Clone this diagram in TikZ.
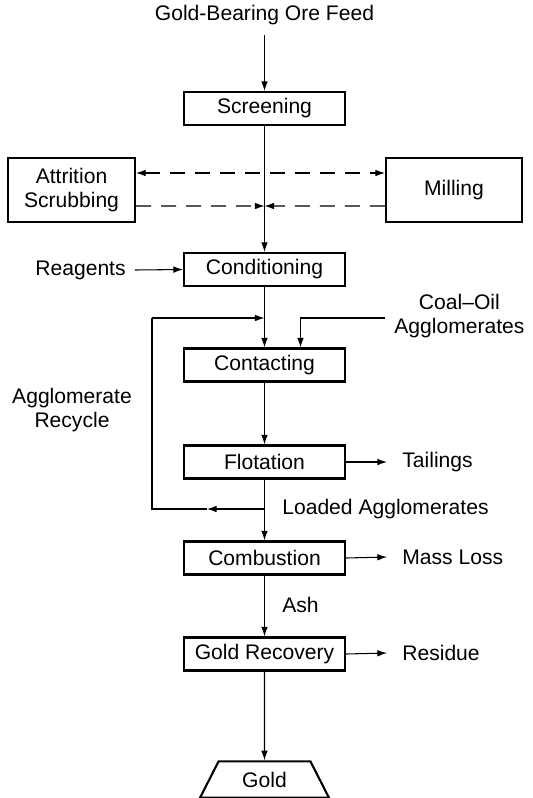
\documentclass[tikz,border=0pt]{standalone}
\usepackage{fontspec}
\setmainfont{Liberation Sans}
\usepackage{tikz}
\usetikzlibrary{arrows.meta,positioning,shapes.geometric}

\begin{document}
\begin{tikzpicture}[
  x=0.02cm, y=-0.02cm,
  font=\fontsize{12}{13.5}\selectfont,
  unit/.style={draw, line width=1.2pt, minimum width=3.22cm,
    minimum height=0.66cm, inner sep=2pt, align=center},
  flow/.style={-{Latex[length=5.5pt,width=3.8pt]}, line width=0.6pt},
  link/.style={line width=0.6pt},
  side/.style={inner sep=0pt, align=center},
  recyc/.style={flow, dash pattern=on 0.3cm off 0.2cm}]
  \useasboundingbox (0,0) rectangle (532,798);

  % feed and main process units
  \node[side] (feed) at (264.5,15) {Gold-Bearing Ore Feed};
  \node[unit] (screen) at (264.5,108.5) {Screening};
  \node[unit] (cond) at (264.5,269.5) {Conditioning};
  \node[unit] (contact) at (264.5,365) {Contacting};
  \node[unit] (flot) at (264.5,462) {Flotation};
  \node[unit] (comb) at (264.5,558) {Combustion};
  \node[unit] (grec) at (264.5,654) {Gold Recovery};
  \node[draw, line width=1.2pt, trapezium, trapezium angle=63,
    minimum width=2.58cm, minimum height=0.6cm, inner sep=1pt]
    (gold) at (264.5,779.5) {Gold};

  % side units for oversize material
  \node[unit, minimum width=2.54cm, minimum height=1.28cm]
    (attr) at (71.5,190) {Attrition\\Scrubbing};
  \node[unit, minimum width=2.72cm, minimum height=1.28cm]
    (mill) at (454,190) {Milling};

  % streams in and out
  \node[side, anchor=east] (reag) at (126,270) {Reagents};
  \node[side, anchor=west] (coal) at (394,316) {Coal--Oil\\Agglomerates};
  \node[side] (recycle) at (72,410) {Agglomerate\\Recycle};
  \node[side, anchor=west] (tail) at (402,462) {Tailings};
  \node[side, anchor=west] (loaded) at (282,509) {Loaded Agglomerates};
  \node[side, anchor=west] (mass) at (402,557) {Mass Loss};
  \node[side, anchor=west] (ash) at (282,605) {Ash};
  \node[side, anchor=west] (resid) at (402,653) {Residue};

  \coordinate (merge) at (264.5,206);
  \coordinate (tap) at (264.5,509);
  \coordinate (rmid) at (207,509);
  \coordinate (rtop) at (152,318);
  \coordinate (join) at (264.5,318);

  % main line
  \draw[flow] ([yshift=-0.2cm]feed.south) -- (screen.north);
  \draw[flow] (screen.south) -- (cond.north);
  \draw[flow] (cond.south) -- (contact.north);
  \draw[flow] (contact.south) -- (flot.north);
  \draw[flow] (flot.south) -- (comb.north);
  \draw[flow] (comb.south) -- (grec.north);
  \draw[flow] (grec.south) -- (gold.north);

  % oversize loop
  \draw[recyc, {Latex[length=5.5pt,width=3.8pt]}-{Latex[length=5.5pt,width=3.8pt]}]
    ([yshift=0.34cm]attr.east) -- ([yshift=0.34cm]mill.west);
  \draw[recyc] ([yshift=-0.32cm]attr.east) -- (merge);
  \draw[recyc] ([yshift=-0.32cm]mill.west) -- (merge);

  % feeds and products
  \draw[flow] ([xshift=0.18cm]reag.east) -- (cond.west);
  \draw[flow] ([xshift=-0.18cm,yshift=-0.04cm]coal.west) -| ([xshift=0.72cm]contact.north);
  \draw[flow] (flot.east) -- ([xshift=-0.3cm]tail.west);
  \draw[flow] (comb.east) -- ([xshift=-0.3cm]mass.west);
  \draw[flow] (grec.east) -- ([xshift=-0.3cm]resid.west);

  % agglomerate recycle
  \draw[flow] (tap) -- (rmid);
  \draw[link] (rmid) -| (rtop);
  \draw[flow] (rtop) -- (join);
\end{tikzpicture}
\end{document}
